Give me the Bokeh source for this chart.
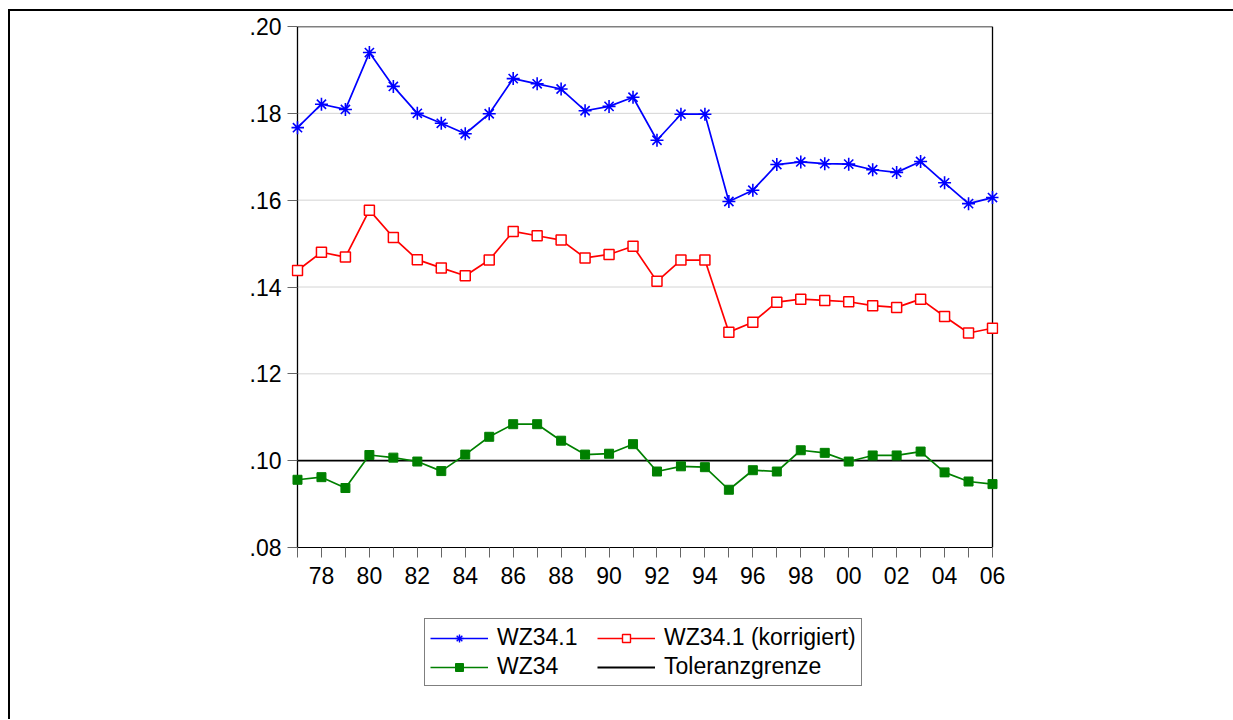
from bokeh.plotting import figure
from bokeh.layouts import column
from bokeh.models import FixedTicker, Legend, LegendItem
from bokeh.embed import file_html
from bokeh.resources import INLINE

years = list(range(1977, 2007))
x_tick_labels = ["", "78", "", "80", "", "82", "", "84", "", "86", "", "88", "", "90", "",
                 "92", "", "94", "", "96", "", "98", "", "00", "", "02", "", "04", "", "06"]
y_ticks = [0.08, 0.10, 0.12, 0.14, 0.16, 0.18, 0.20]
y_tick_labels = [".08", ".10", ".12", ".14", ".16", ".18", ".20"]

wz341 = [0.1767, 0.1821, 0.1809, 0.1940, 0.1862, 0.1800, 0.1777, 0.1753, 0.1799, 0.1880,
         0.1868, 0.1856, 0.1806, 0.1816, 0.1837, 0.1738, 0.1798, 0.1798, 0.1597, 0.1623,
         0.1682, 0.1688, 0.1684, 0.1683, 0.1670, 0.1664, 0.1689, 0.1640, 0.1592, 0.1606]
wz341_korr = [0.1438, 0.1480, 0.1469, 0.1577, 0.1514, 0.1463, 0.1444, 0.1426, 0.1462, 0.1528,
              0.1518, 0.1508, 0.1467, 0.1475, 0.1494, 0.1413, 0.1462, 0.1462, 0.1296, 0.1319,
              0.1365, 0.1372, 0.1369, 0.1366, 0.1357, 0.1353, 0.1372, 0.1332, 0.1294, 0.1305]
wz34 = [0.0956, 0.0962, 0.0937, 0.1013, 0.1007, 0.0998, 0.0976, 0.1014, 0.1055, 0.1084,
        0.1084, 0.1046, 0.1014, 0.1016, 0.1038, 0.0975, 0.0987, 0.0985, 0.0933, 0.0978,
        0.0975, 0.1024, 0.1018, 0.0998, 0.1012, 0.1012, 0.1021, 0.0973, 0.0952, 0.0946]
toleranzgrenze = 0.10

FONT = "Liberation Sans"
BLUE, RED, GREEN = "#0000ff", "#ff0000", "#008000"

x0, x1 = years[0], years[-1]
y0, y1 = y_ticks[0], y_ticks[-1]
XPAD = 0.25  # small padding so edge markers are not clipped
tol_series = [toleranzgrenze] * len(years)

p = figure(width=1223, height=600, output_backend="svg", toolbar_location=None,
           x_range=(x0 - XPAD, x1 + XPAD), y_range=(y0, y1),
           min_border_left=281, min_border_top=15, min_border_right=235, min_border_bottom=64)

p.outline_line_color = None
p.background_fill_color = "white"
p.border_fill_color = "white"
p.grid.visible = False

# light horizontal grid lines, drawn between the first and last year
inner = y_ticks[1:-1]
p.segment(x0=[x0] * len(inner), x1=[x1] * len(inner), y0=inner, y1=inner,
          line_color="#d4d4d4", line_width=1)

p.xaxis.ticker = FixedTicker(ticks=years)
p.xaxis.major_label_overrides = {y: l for y, l in zip(years, x_tick_labels)}
p.xaxis.bounds = (x0, x1)
p.yaxis.ticker = FixedTicker(ticks=y_ticks)
p.yaxis.major_label_overrides = {t: l for t, l in zip(y_ticks, y_tick_labels)}

for ax in (p.xaxis[0], p.yaxis[0]):
    ax.axis_line_color = "black"
    ax.axis_line_width = 1
    ax.major_tick_line_color = "#666666"
    ax.minor_tick_line_color = None
    ax.major_label_text_font = FONT
    ax.major_label_text_font_size = "23px"
    ax.major_label_text_color = "black"
p.xaxis.major_tick_in = 0
p.xaxis.major_tick_out = 10
p.xaxis.major_label_standoff = 9
p.yaxis.axis_line_color = None
p.yaxis.major_tick_in = 6
p.yaxis.major_tick_out = 4
p.yaxis.major_label_standoff = 6

# plot box
p.segment(x0=[x0, x1, x0], x1=[x0, x1, x1], y0=[y0, y0, y1], y1=[y1, y1, y1],
          line_color="black", line_width=1.3)

p.line(years, tol_series, line_color="black", line_width=1.8)

p.line(years, wz341, line_color=BLUE, line_width=1.7)
p.scatter(years, wz341, marker="asterisk", size=13, line_color=BLUE, line_width=1.6)

p.line(years, wz341_korr, line_color=RED, line_width=1.7)
p.scatter(years, wz341_korr, marker="square", size=10, line_color=RED,
          fill_color="white", line_width=1.5)

p.line(years, wz34, line_color=GREEN, line_width=1.7)
p.scatter(years, wz34, marker="square", size=9, line_color=GREEN,
          fill_color=GREEN, line_width=1)

# legend figure: same series drawn outside its visible range, only the legend shows
lg = figure(width=1223, height=108, output_backend="svg", toolbar_location=None,
            x_range=(0, 1), y_range=(0, 1), x_axis_location=None, y_axis_location=None,
            min_border=0, min_border_left=0, min_border_right=0, min_border_top=0,
            min_border_bottom=0)
lg.outline_line_color = None
lg.grid.visible = False
lb_l = lg.line(years, wz341, line_color=BLUE, line_width=1.7)
lb_m = lg.scatter(years, wz341, marker="asterisk", size=10, line_color=BLUE, line_width=1.4)
lr_l = lg.line(years, wz341_korr, line_color=RED, line_width=1.7)
lr_m = lg.scatter(years, wz341_korr, marker="square", size=8, line_color=RED,
                  fill_color="white", line_width=1.4)
lgn_l = lg.line(years, wz34, line_color=GREEN, line_width=1.7)
lgn_m = lg.scatter(years, wz34, marker="square", size=8, line_color=GREEN, fill_color=GREEN)
lt_l = lg.line(years, tol_series, line_color="black", line_width=1.8)

legend = Legend(items=[
    LegendItem(label="WZ34.1", renderers=[lb_l, lb_m]),
    LegendItem(label="WZ34", renderers=[lgn_l, lgn_m]),
    LegendItem(label="WZ34.1 (korrigiert)", renderers=[lr_l, lr_m]),
    LegendItem(label="Toleranzgrenze", renderers=[lt_l]),
], ncols=2, location=(133, 33), orientation="vertical")
legend.label_text_font = FONT
legend.label_text_font_size = "23px"
legend.label_text_color = "black"
legend.glyph_width = 58
legend.glyph_height = 20
legend.label_standoff = 9
legend.label_height = 26
legend.label_width = 98
legend.spacing = 2
legend.padding = 5
legend.margin = 0
legend.border_line_color = "black"
legend.border_line_width = 1
legend.background_fill_alpha = 1
lg.add_layout(legend, "center")

page = column(p, lg, spacing=0,
              styles={"margin": "9px 0 0 8px",
                      "border-left": "2px solid black", "border-top": "2px solid black"})

open("out.html", "w").write(file_html(page, INLINE))
